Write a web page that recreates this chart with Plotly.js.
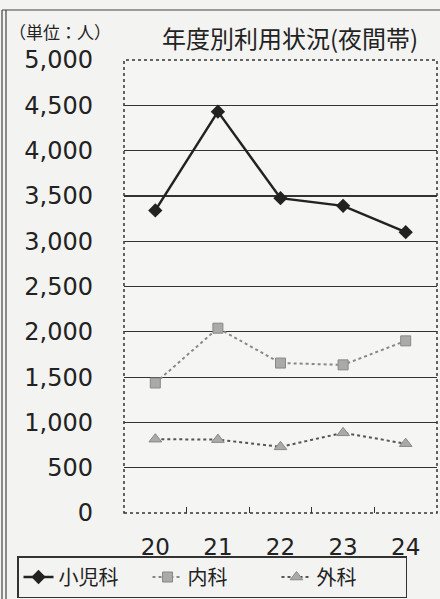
<!DOCTYPE html>
<html>
<head>
<meta charset="utf-8">
<script src="https://cdn.plot.ly/plotly-3.0.1.min.js"></script>
<style>html,body{margin:0;padding:0;background:#f3f3f1;}</style>
</head>
<body>
<div id="chart" style="width:440px;height:599px;"></div>
<script>
var years = ['20', '21', '22', '23', '24'];
var pediatrics = [3340, 4430, 3475, 3390, 3100];   // 小児科
var internal = [1435, 2040, 1655, 1635, 1900];     // 内科
var surgery = [815, 810, 730, 885, 765];           // 外科
var yTicks = [0, 500, 1000, 1500, 2000, 2500, 3000, 3500, 4000, 4500, 5000];
var yTickText = ['0', '500', '1,000', '1,500', '2,000', '2,500', '3,000', '3,500', '4,000', '4,500', '5,000'];

var L = 124, R = 437, T = 60, B = 513;
function px(x){ return (x - L) / (R - L); }
function py(y){ return (B - y) / (B - T); }

var traces = [
  {x: years, y: pediatrics, name: '小児科', type: 'scatter', mode: 'lines+markers',
   line: {color: '#222', width: 2.5}, marker: {symbol: 'diamond', size: 11, color: '#222'}},
  {x: years, y: internal, name: '内科', type: 'scatter', mode: 'lines+markers',
   line: {color: '#888', width: 2, dash: 'dot'}, marker: {symbol: 'square', size: 10, color: '#aaa', line: {color: '#888', width: 1}}},
  {x: years, y: surgery, name: '外科', type: 'scatter', mode: 'lines+markers',
   line: {color: '#555', width: 2, dash: 'dot'}, marker: {symbol: 'triangle-up', size: 11, color: '#aaa', line: {color: '#888', width: 1}}}
];

var layout = {
  width: 440, height: 599,
  margin: {l: L, r: 440 - R, t: T, b: 599 - B, autoexpand: false},
  paper_bgcolor: '#f3f3f1', plot_bgcolor: '#f5f5f3',
  font: {family: '"DejaVu Sans", sans-serif', color: '#222'},
  showlegend: true,
  legend: {orientation: 'h', x: px(17), y: py(556), xanchor: 'left', yanchor: 'top',
    bordercolor: '#333', borderwidth: 1.5, bgcolor: 'rgba(0,0,0,0)',
    font: {family: '"Noto Sans CJK JP", sans-serif', size: 20, color: '#222'},
    itemwidth: 30, entrywidth: 84, tracegroupgap: 0},
  xaxis: {type: 'category', tickvals: years, ticktext: years, showgrid: false,
    ticks: 'inside', tickson: 'boundaries', ticklen: 6, tickcolor: '#333',
    showline: false, zeroline: false, ticklabelstandoff: 18,
    tickfont: {size: 23, family: '"DejaVu Sans", sans-serif', color: '#222'},
    range: [-0.5, 4.5]},
  yaxis: {range: [0, 5000], tickvals: yTicks, ticktext: yTickText, showgrid: true,
    gridcolor: '#333', gridwidth: 1.2, zeroline: false, showline: false, ticks: '',
    ticklabelstandoff: 30,
    tickfont: {size: 24, family: '"DejaVu Sans", sans-serif', color: '#222'}},
  shapes: [
    {type: 'rect', xref: 'paper', yref: 'paper', x0: 0, x1: 1, y0: 0, y1: 1,
     line: {color: '#333', width: 1.5, dash: 'dot'}},
    {type: 'line', xref: 'paper', yref: 'paper', x0: px(2), x1: px(2), y0: py(10), y1: py(599),
     line: {color: '#444', width: 1.2}},
    {type: 'line', xref: 'paper', yref: 'paper', x0: px(6), x1: px(6), y0: py(10), y1: py(599),
     line: {color: '#444', width: 1.2}},
    {type: 'line', xref: 'paper', yref: 'paper', x0: px(2), x1: px(440), y0: py(10), y1: py(10),
     line: {color: '#444', width: 1.2}}
  ],
  annotations: [
    {text: '年度別利用状況(夜間帯)', xref: 'paper', yref: 'paper', x: px(290), y: py(38),
     xanchor: 'center', yanchor: 'middle', showarrow: false,
     font: {family: '"Noto Sans CJK JP", sans-serif', size: 24, color: '#222'}},
    {text: '（単位：人）', xref: 'paper', yref: 'paper', x: px(60), y: py(32),
     xanchor: 'center', yanchor: 'middle', showarrow: false,
     font: {family: '"Noto Sans CJK JP", sans-serif', size: 17, color: '#222'}}
  ]
};

Plotly.newPlot('chart', traces, layout, {displayModeBar: false, staticPlot: true});
</script>
</body>
</html>
